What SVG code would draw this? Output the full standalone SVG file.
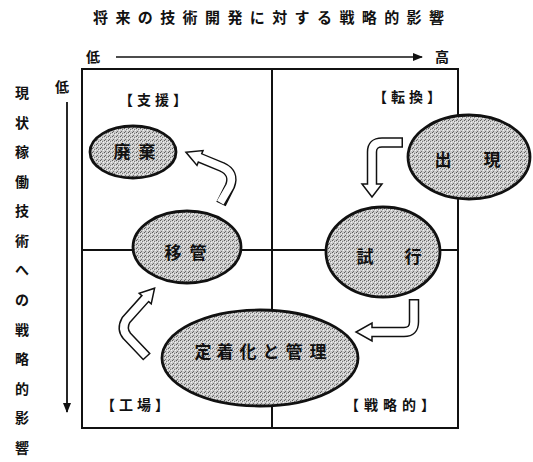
<svg xmlns="http://www.w3.org/2000/svg" width="533" height="462" viewBox="0 0 533 462">
<defs>
<style>
text{font-family:"Noto Sans CJK JP","Noto Sans CJK SC",sans-serif;font-weight:bold;fill:#111;}
.t{font-size:14px;}
.lbl{font-size:14px;}
.in{font-size:17px;text-anchor:middle;}
.grid{stroke:#111;stroke-width:2;fill:none;}
.node{fill:url(#dots);stroke:#111;stroke-width:2.8;}
.ob{fill:none;stroke:#111;stroke-width:10.5;stroke-linejoin:round;}
.iw{fill:none;stroke:#fff;stroke-width:7.5;stroke-linejoin:round;}
.hd{fill:#fff;stroke:#111;stroke-width:1.5;stroke-linejoin:miter;}
</style>
<pattern id="dots" width="4" height="4" patternUnits="userSpaceOnUse">
<rect width="4" height="4" fill="#cacaca"/>
<rect x="0" y="0" width="1" height="1" fill="#5a5a5a"/>
<rect x="2" y="1" width="1" height="1" fill="#7a7a7a"/>
<rect x="1" y="3" width="1" height="1" fill="#6e6e6e"/>
<rect x="3" y="2" width="1" height="1" fill="#f2f2f2"/>
<rect x="1" y="1" width="1" height="1" fill="#eeeeee"/>
</pattern>
<marker id="ah" viewBox="0 0 10 8" refX="9" refY="4" markerWidth="10" markerHeight="8" markerUnits="userSpaceOnUse" orient="auto">
<path d="M0,0 L10,4 L0,8 Z" fill="#111"/>
</marker>
</defs>

<g id="title">
<text x="93" y="23" font-size="15" letter-spacing="7.4">将来の技術開発に対する戦略的影響</text>
</g>

<g id="axes">
<text x="86" y="62" class="t">低</text>
<line x1="116" y1="57" x2="422" y2="57" stroke="#111" stroke-width="1.6" marker-end="url(#ah)"/>
<text x="435" y="62" class="t">高</text>
<text x="55" y="92" class="t">低</text>
<line x1="67" y1="102" x2="67" y2="412" stroke="#111" stroke-width="1.8" marker-end="url(#ah)"/>
<g class="t">
<text x="15" y="98">現</text>
<text x="15" y="128">状</text>
<text x="15" y="157">稼</text>
<text x="15" y="187">働</text>
<text x="15" y="216">技</text>
<text x="15" y="246">術</text>
<text x="15" y="275">へ</text>
<text x="15" y="305">の</text>
<text x="15" y="335">戦</text>
<text x="15" y="364">略</text>
<text x="15" y="394">的</text>
<text x="15" y="423">影</text>
<text x="15" y="453">響</text>
</g>
</g>

<g id="grid">
<rect x="82" y="69" width="376" height="359" class="grid"/>
<line x1="272" y1="69" x2="272" y2="428" class="grid"/>
<line x1="82" y1="250" x2="458" y2="250" class="grid"/>
</g>

<g id="quadrant-labels">
<text x="119" y="105" class="lbl" letter-spacing="4">【支援】</text>
<text x="373" y="102" class="lbl" letter-spacing="4">【転換】</text>
<text x="101" y="410" class="lbl" letter-spacing="4">【工場】</text>
<text x="345" y="410" class="lbl" letter-spacing="5">【戦略的】</text>
</g>

<g id="connectors">
<g id="a1">
<polygon class="hd" points="186,152.3 203,150.6 197,165.4"/>
<path class="ob" d="M221,204 L230,186 Q235,173 222,167 L200,158"/>
<path class="iw" d="M220.3,202.6 L230,186 Q235,173 222,167 L198,157"/>
</g>
<g id="a2">
<polygon class="hd" points="362,184 382,184 372,197"/>
<path class="ob" d="M403,142.5 L382,142.5 Q372,142.5 372,152 L372,184"/>
<path class="iw" d="M401.5,142.5 L382,142.5 Q372,142.5 372,152 L372,186"/>
</g>
<g id="a3">
<polygon class="hd" points="372,323 372,341 356,332"/>
<path class="ob" d="M414,299 L414,322 Q414,332 404,332 L372,332"/>
<path class="iw" d="M414,300.5 L414,322 Q414,332 404,332 L370,332"/>
</g>
<g id="a4">
<polygon class="hd" points="154.6,288.2 151.2,303.9 139.2,293.3"/>
<path class="ob" d="M147,357 L127,336 Q121,329 126,320 L145.2,298.6"/>
<path class="iw" d="M146,356 L127,336 Q121,329 126,320 L146.5,297.2"/>
</g>
</g>

<g id="n-haiki">
<ellipse cx="133" cy="152" rx="43" ry="26" class="node"/>
<text x="122" y="158" class="in">廃</text>
<text x="147" y="158" class="in">棄</text>
</g>
<g id="n-ikan">
<ellipse cx="187" cy="247" rx="54" ry="36" class="node"/>
<text x="173" y="259" class="in">移</text>
<text x="198" y="259" class="in">管</text>
</g>
<g id="n-shutsugen">
<ellipse cx="469" cy="157" rx="61" ry="42" class="node"/>
<text x="443" y="166" class="in">出</text>
<text x="492" y="166" class="in">現</text>
</g>
<g id="n-shikou">
<ellipse cx="383" cy="252" rx="57" ry="45" class="node"/>
<text x="365" y="263" class="in">試</text>
<text x="413" y="263" class="in">行</text>
</g>
<g id="n-teichaku">
<ellipse cx="260" cy="358" rx="98" ry="48" class="node"/>
<text x="203" y="358" class="in">定</text>
<text x="225" y="358" class="in">着</text>
<text x="248" y="358" class="in">化</text>
<text x="271" y="358" class="in">と</text>
<text x="294" y="358" class="in">管</text>
<text x="318" y="358" class="in">理</text>
</g>
</svg>
